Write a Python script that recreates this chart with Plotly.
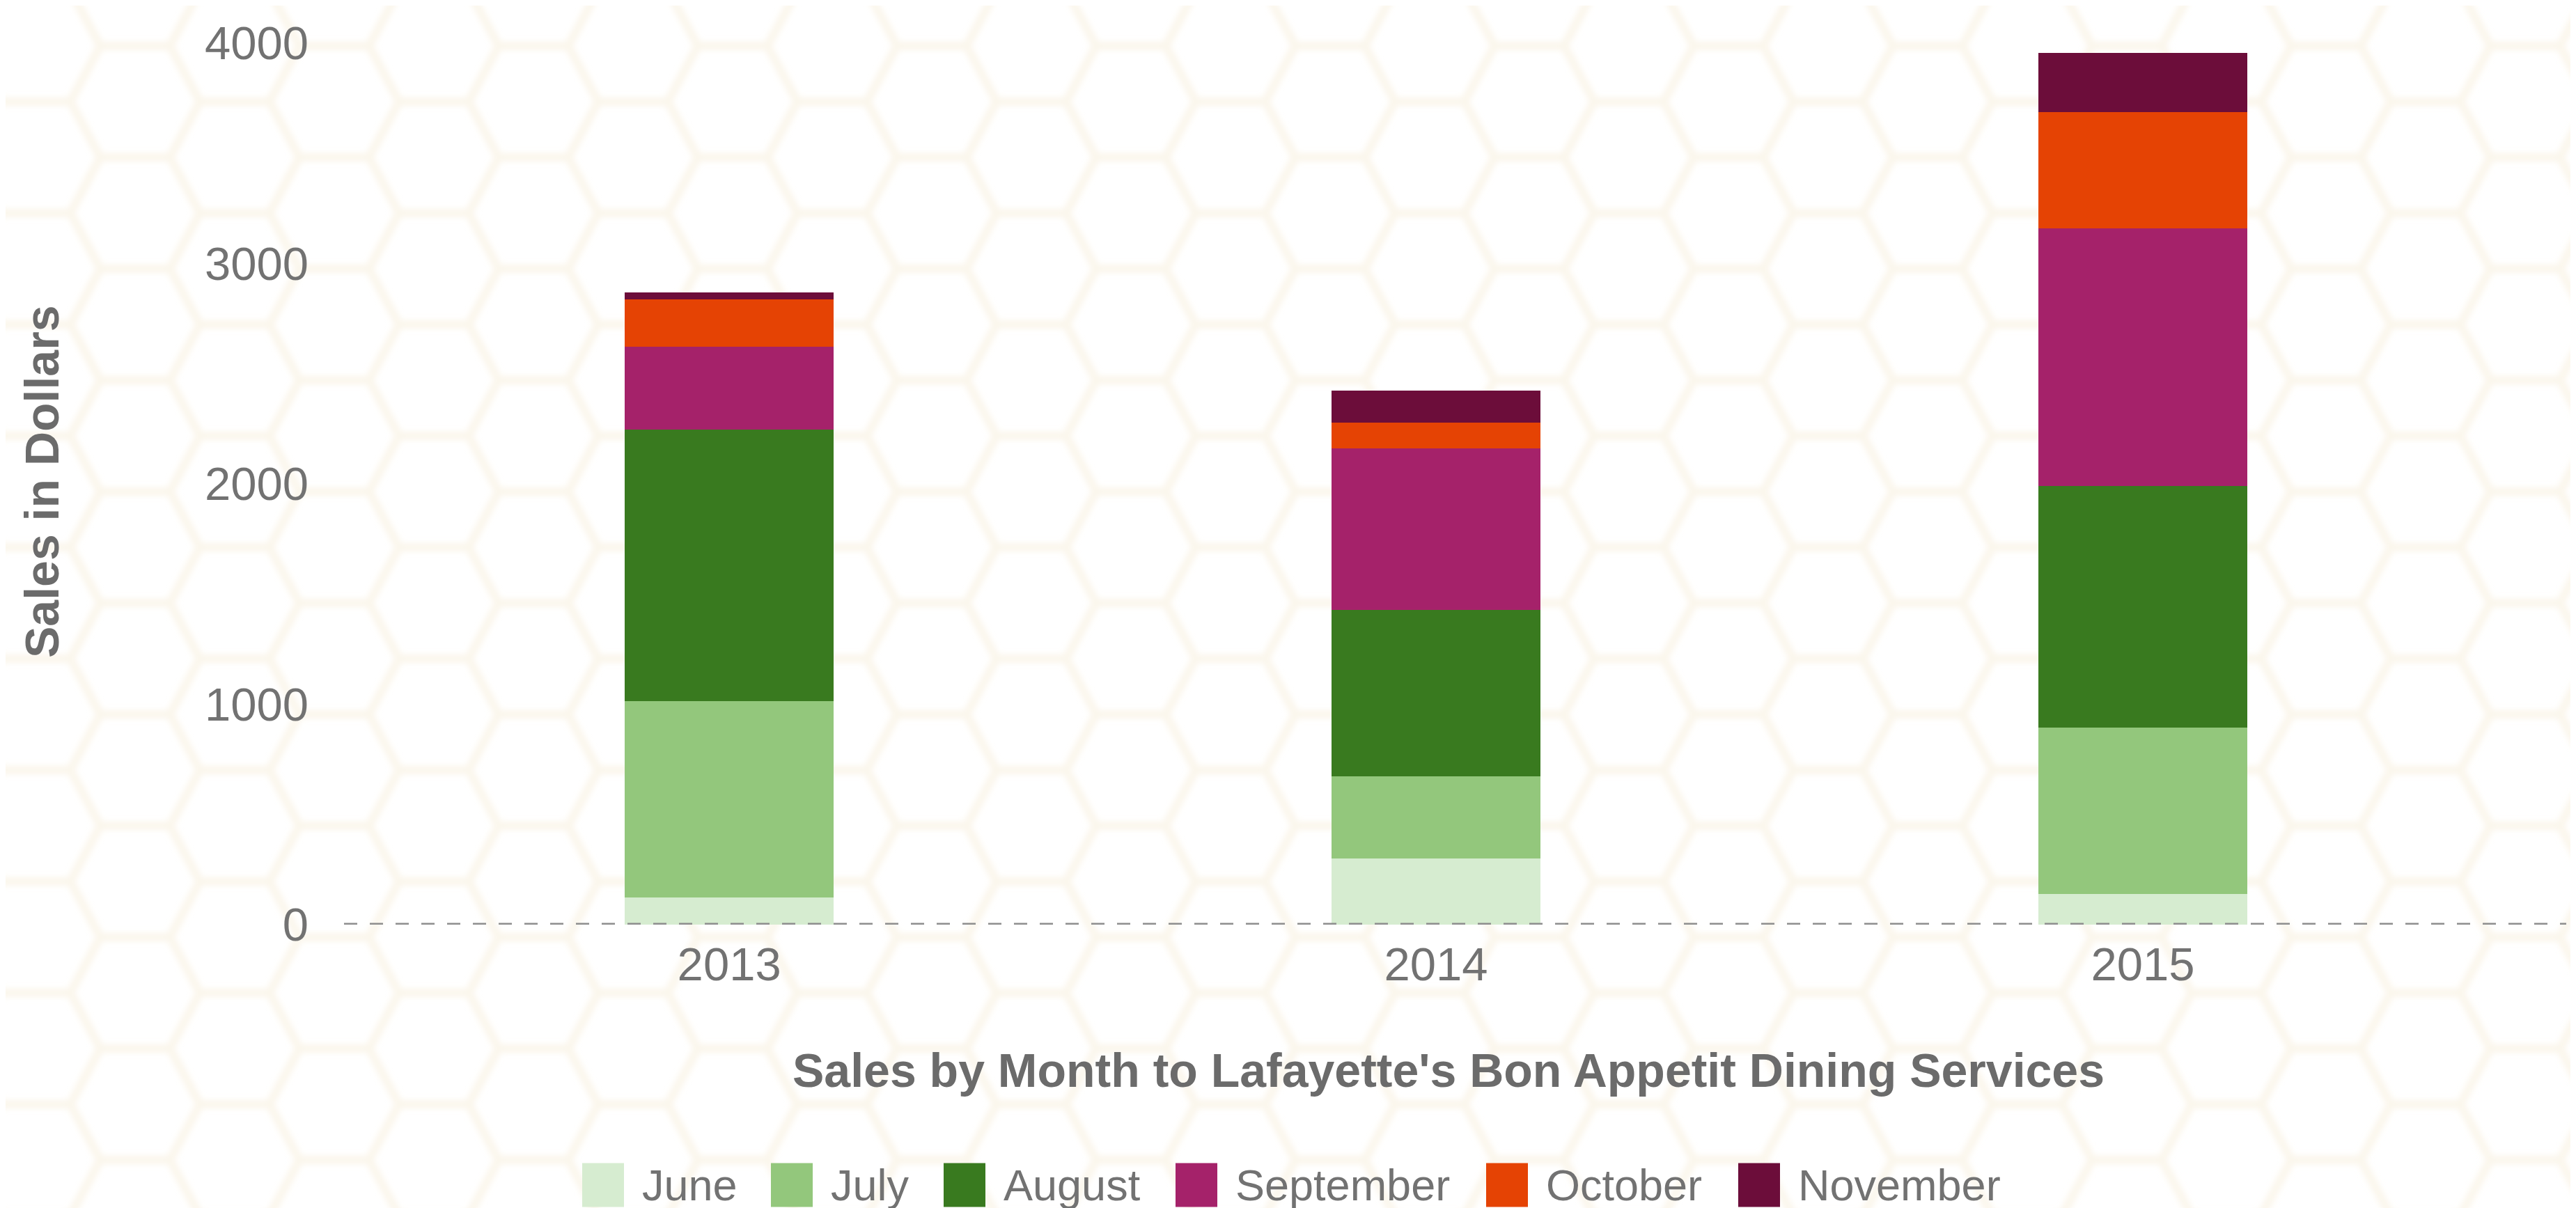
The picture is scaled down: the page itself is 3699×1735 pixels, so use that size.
import base64
import plotly.graph_objects as go

# ---------------- data ----------------
years = ["2013", "2014", "2015"]
months = ["June", "July", "August", "September", "October", "November"]
june = [123, 300, 140]
july = [890, 373, 755]
august = [1232, 755, 1097]
september = [376, 732, 1167]
october = [215, 117, 529]
november = [33, 146, 268]
y_ticks = [0, 1000, 2000, 3000, 4000]

series = [june, july, august, september, october, november]
colors = ["#d6ecd0", "#93c77c", "#397a1f", "#a5226a", "#e54304", "#6c0d3a"]

# ---------------- geometry (pixels) ----------------
W, H = 3699, 1735
PL, PR = 486, 3677          # plot left / right
PT, PB = 54, 1320           # plot top / bottom
PW, PH = PR - PL, PB - PT

def px_x(p):
    return (p - PL) / PW

def px_y(p):
    return (PB - p) / PH

# ---------------- hexagon background ----------------
def hex_svg():
    e, w, h = 100, 186, 160
    colsp, x0, y0 = 143, 1330, 58
    parts = []
    k_start = -((x0 + 200) // colsp) - 1
    k_end = (W - x0 + 200) // colsp + 1
    for k in range(int(k_start), int(k_end) + 1):
        cx = x0 + k * colsp
        off = 80 if k % 2 else 0
        for j in range(-2, 14):
            cy = y0 + 80 + off + j * h
            pts = [(cx - e / 2, cy - h / 2), (cx + e / 2, cy - h / 2), (cx + w / 2, cy),
                   (cx + e / 2, cy + h / 2), (cx - e / 2, cy + h / 2), (cx - w / 2, cy)]
            parts.append("M" + " L".join(f"{a:.1f},{b:.1f}" for a, b in pts) + " Z")
    d = " ".join(parts)
    svg = (f'<svg xmlns="http://www.w3.org/2000/svg" width="{W}" height="{H}" '
           f'viewBox="0 0 {W} {H}"><defs><filter id="b" x="-5%" y="-5%" width="110%" height="110%">'
           f'<feGaussianBlur stdDeviation="4"/></filter></defs>'
           f'<rect width="{W}" height="{H}" fill="#ffffff"/>'
           f'<path d="{d}" fill="none" stroke="#f4e8cc" stroke-opacity="0.38" '
           f'stroke-width="12" stroke-linejoin="round" filter="url(#b)"/></svg>')
    return "data:image/svg+xml;base64," + base64.b64encode(svg.encode()).decode()

# ---------------- figure ----------------
fig = go.Figure()
for name, vals, col in zip(months, series, colors):
    fig.add_trace(go.Bar(
        x=years, y=vals, name=name, width=0.295,
        marker=dict(color=col, line=dict(width=0)),
        showlegend=False,
    ))

FONT = "Liberation Sans, Arial, Helvetica, sans-serif"
TICK_COLOR = "#727272"
TITLE_COLOR = "#6b6b6b"

fig.update_layout(
    width=W, height=H,
    barmode="stack",
    paper_bgcolor="#ffffff",
    plot_bgcolor="rgba(0,0,0,0)",
    margin=dict(l=PL, r=W - PR, t=PT, b=H - PB, autoexpand=False),
    font=dict(family=FONT, color=TICK_COLOR, size=67),
    xaxis=dict(
        type="category", range=[-0.545, 2.599],
        showgrid=False, zeroline=False, showline=False, ticks="",
        tickfont=dict(size=67, color=TICK_COLOR),
        ticklabelstandoff=12,
    ),
    yaxis=dict(
        range=[0, 4000], tickvals=y_ticks, tickformat="d",
        showgrid=False, zeroline=False, showline=False, ticks="",
        tickfont=dict(size=67, color=TICK_COLOR),
        ticklabelstandoff=50,
    ),
    images=[dict(
        source=hex_svg(), xref="paper", yref="paper",
        x=px_x(0), y=px_y(0), sizex=W / PW, sizey=H / PH,
        xanchor="left", yanchor="top", sizing="stretch", layer="below",
    )],
)

shapes = [dict(
    type="line", xref="paper", yref="y", x0=0, x1=1, y0=0, y1=0,
    line=dict(color="#8e8e8e", width=5, dash="19px,18px"), layer="above",
)]

annotations = [
    dict(text="<b>Sales by Month to Lafayette's Bon Appetit Dining Services</b>",
         xref="paper", yref="paper", x=px_x(2072), y=px_y(1529),
         xanchor="center", yanchor="middle", showarrow=False,
         font=dict(size=68, color=TITLE_COLOR, family=FONT)),
    dict(text="<b>Sales in Dollars</b>", textangle=-90,
         xref="paper", yref="paper", x=px_x(52), y=px_y(684),
         xanchor="center", yanchor="middle", showarrow=False,
         font=dict(size=68, color=TITLE_COLOR, family=FONT)),
]

# custom legend (large square swatches)
LEGEND_LEFT_PX = [828, 1099, 1347, 1680, 2126, 2488]
SW_W, SW_H, LEG_CY, TXT_GAP = 60, 63, 1694, 24
for name, col, lx in zip(months, colors, LEGEND_LEFT_PX):
    shapes.append(dict(
        type="rect", xref="paper", yref="paper",
        x0=px_x(lx), x1=px_x(lx + SW_W),
        y0=px_y(LEG_CY + SW_H / 2), y1=px_y(LEG_CY - SW_H / 2),
        fillcolor=col, line=dict(width=0), layer="above",
    ))
    annotations.append(dict(
        text=name, xref="paper", yref="paper",
        x=px_x(lx + SW_W + TXT_GAP), y=px_y(LEG_CY),
        xanchor="left", yanchor="middle", showarrow=False,
        font=dict(size=63, color=TICK_COLOR, family=FONT),
    ))

fig.update_layout(shapes=shapes, annotations=annotations)
fig.write_html("out.html")
